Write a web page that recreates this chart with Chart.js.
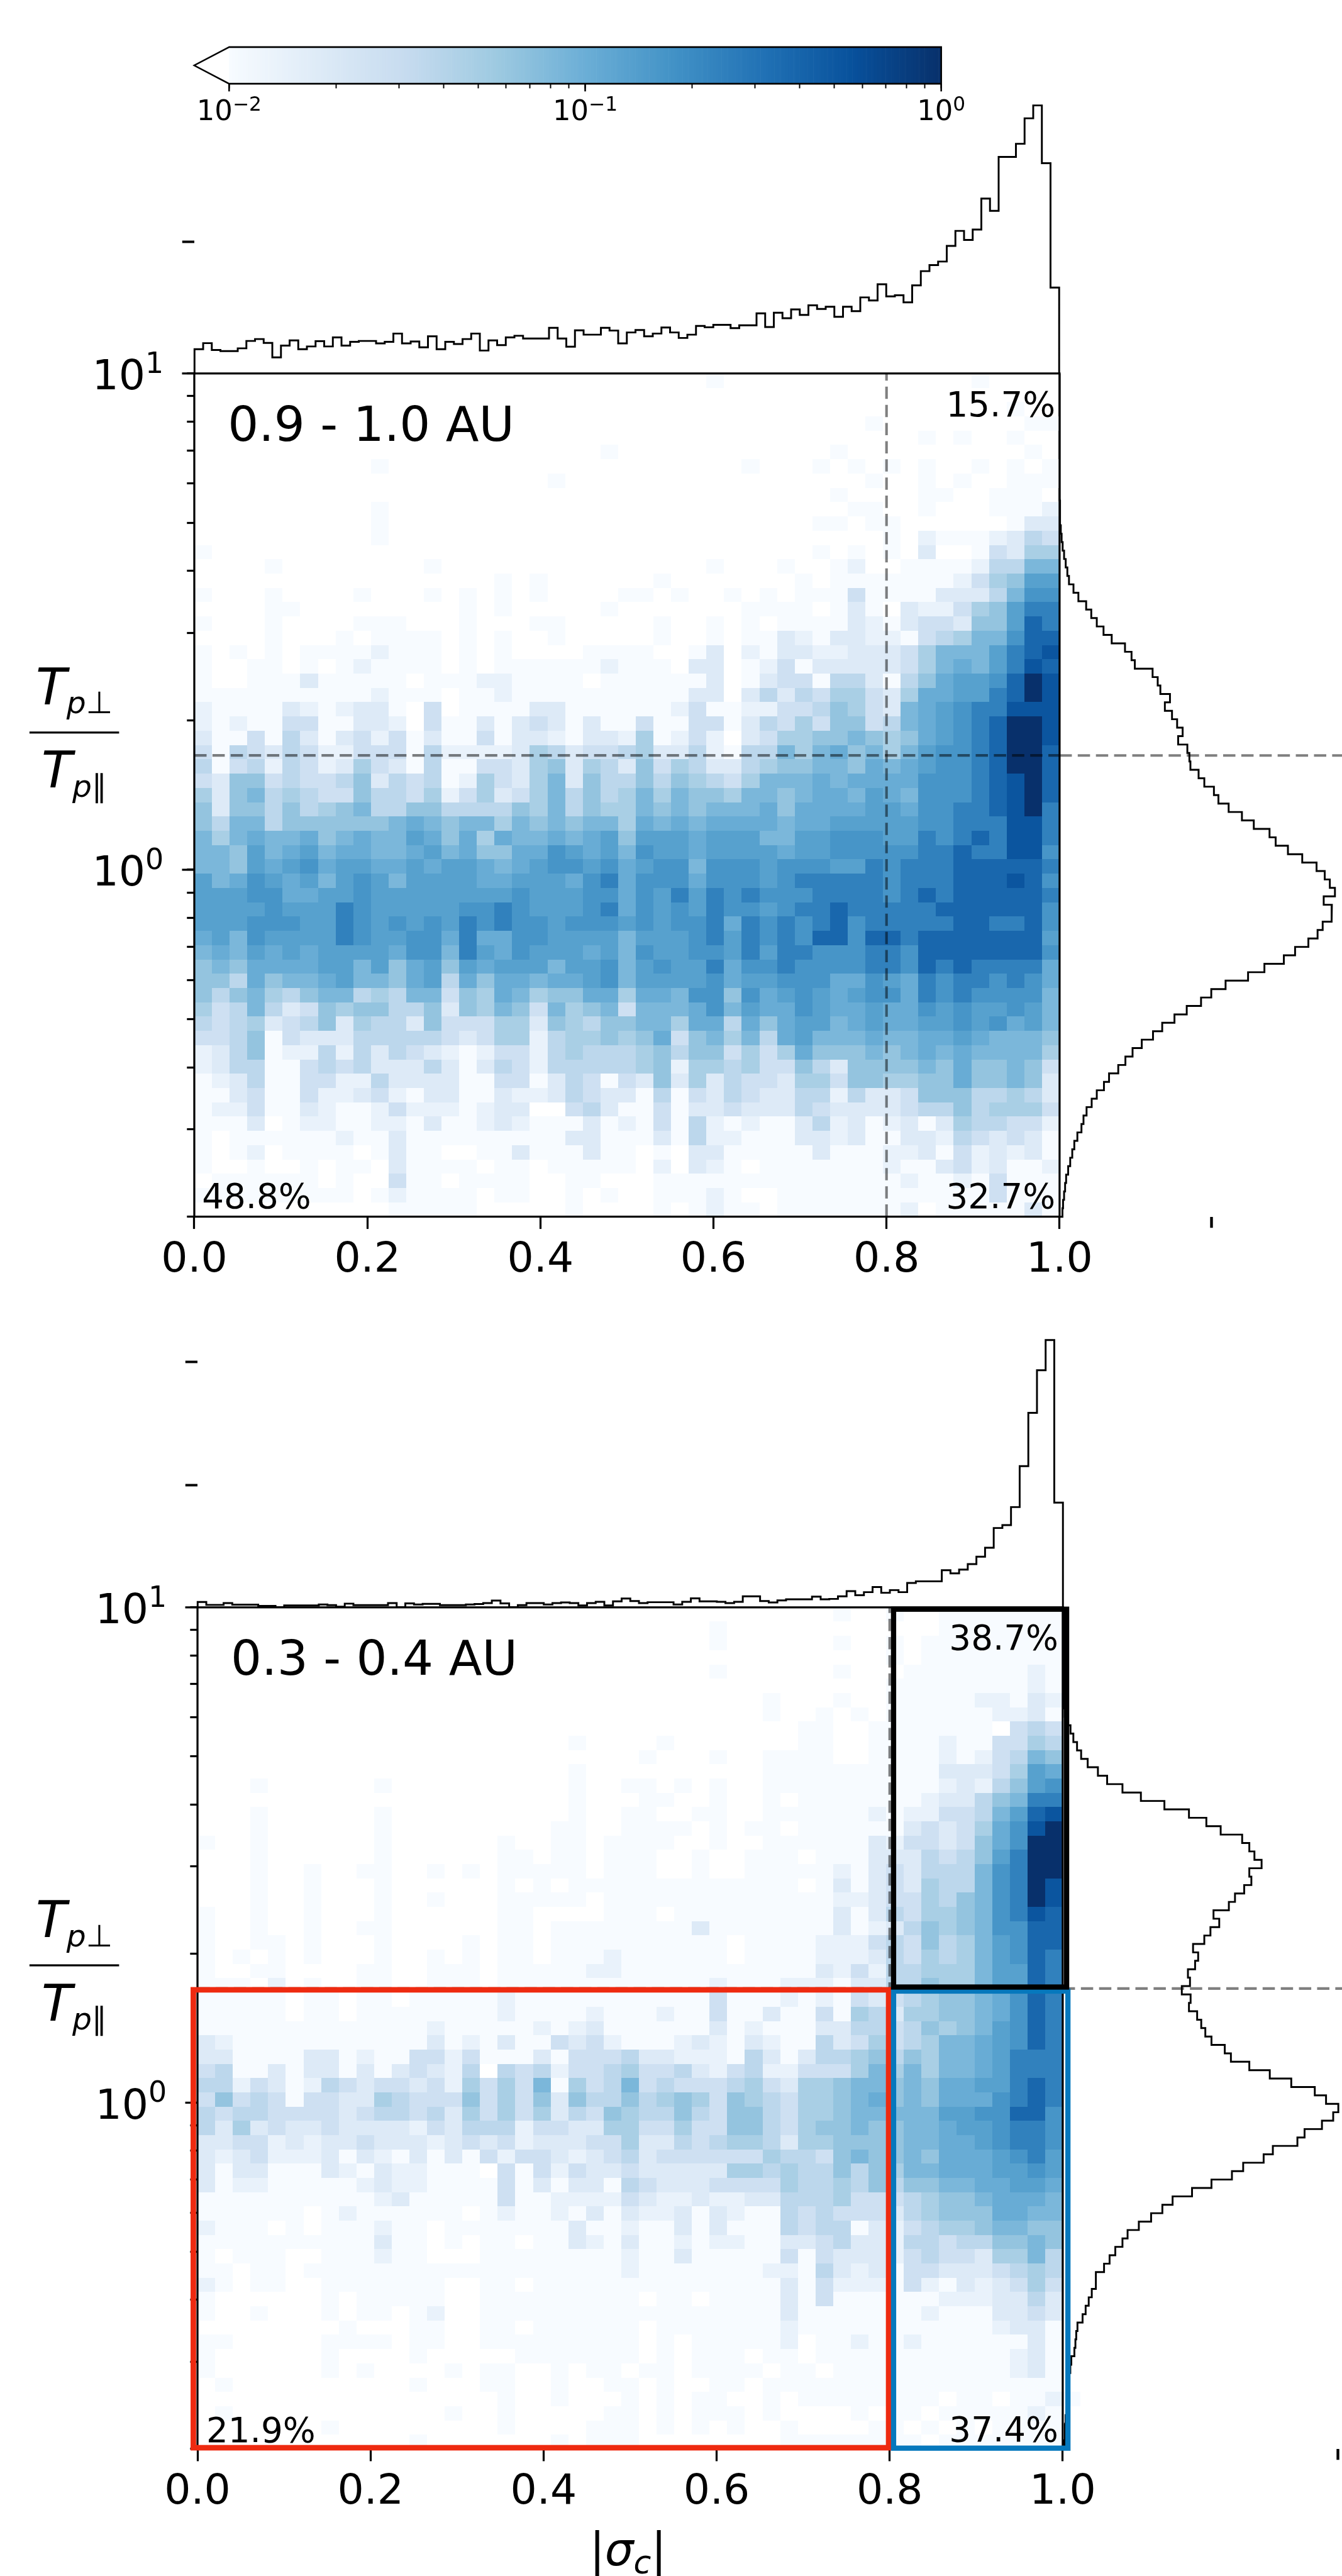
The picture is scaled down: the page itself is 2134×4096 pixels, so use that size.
<!DOCTYPE html>
<html>
<head>
<meta charset="utf-8">
<script src="https://cdn.jsdelivr.net/npm/chart.js@4"></script>
<style>
html, body { margin: 0; padding: 0; background: #fff; }
body { position: relative; width: 2134px; height: 4096px; overflow: hidden; }
canvas { position: absolute; }
</style>
</head>
<body>
<script>
// values
const xTickValues = [0, 0.2, 0.4, 0.6, 0.8, 1];
const yTickValues = [0.2, 0.3, 0.4, 0.5, 0.6, 0.7, 0.8, 0.9, 1, 2, 3, 4, 5, 6, 7, 8, 9, 10];
const yTickPowers = { 1: '0', 10: '1' };
const cbarTickValues = [0.01, 0.02, 0.03, 0.04, 0.05, 0.06, 0.07, 0.08, 0.09, 0.1, 0.2, 0.3, 0.4, 0.5, 0.6, 0.7, 0.8, 0.9, 1];
const cbarTickPowers = { 0.01: '−2', 0.1: '−1', 1: '0' };
const anisotropyLine = 1.7;
const alfvenicLine = 0.8;

// density meant by each hex digit in the cell tables below, digit 0 = empty bin
const levelValues = [0, 0.01, 0.0138, 0.0182, 0.0263, 0.0363, 0.0479, 0.0631, 0.0832, 0.1047, 0.1318, 0.166, 0.24, 0.38, 0.5248, 1];

// one string per row of bins, top row first, one hex digit per bin
const cells09 = [
'0000000000000000000000000 000010000000000000010000',
'0000000000000000000000000 000000000000000000000000',
'0000000000000000000000000 000000000000000000000100',
'0000000000000000000000000 000000000000010000000011',
'0000000000000000000000000 000000000000000010100100',
'0000000000000000000000010 000000000001000000000010',
'0000000000100000000000000 000000100010101010010101',
'0000000000000000000010000 000000000000010010100111',
'0000000000000000000000000 000000000001000011001110',
'0000000000100000000000000 000000000000110010001112',
'0000000000100000000000000 000000000011011000000133',
'0000000000100000000000000 000000000000001021112354',
'1000000000000000000000000 000000000010101030014366',
'0000100000000100000000000 000010001001200111125588',
'0000000000000000010100000 010000000101111111 2467aa',
'1000100001000101010100001 101001010111 4 1111 333 58bb',
'0000110000000001010000010 000000 1111 0 1 3 1 0 322467acc',
'1000100001110001000110000 0 1 00 1 0 1 0 1111 321344377adc',
'0000 1 000 1 0 1111 0 1 0 1 00 1 0000 0 1 00 1 0 1 1 3213322145688bdd',
'1010101111 2 111 0 1 0 1 0000 111 1 00 1 3 0 2 1 33223334 688 8acde',
'1001101012 1111 0 1 0 11111 121 11 0 3 3 0 1 2 4 1 33333 4 689 8 a c e d',
'1001113 11111 0 111 2 2 1111 0 11 1111 3 0 1 3 4 4 1 5 5 3 1 5 7 9 a a b d f e',
'1111111111 2 111 0 11 2 1111111 111 3 3 0 3 5 3 5 4 6 6 4 3 6 9 9 a a c d f e',
'2 1111 3 2 1 2 3 3 1 0 4 0 1111 3 3 1111 1 1 2 4 1 1 2 2 4 4 5 7 6 4 3 8 9 a b c c e e e',
'2121144113320411 3 1 3 4 3 1 3 1 1 4 1 1 4 4 1 3 5 4 6 4 7 7 4 5 8 9 a b c d f f e',
'3114153134241311 4 1 3 3 2 1 3 3 2 6 1 2 4 2 0 3 4 6 6 7 7 8 7 6 7 9 a b c d f f e',
'4154354224441522 2 2 3 6 5 3 4 4 5 6 3 3 5 2 1 5 5 8 6 8 9 7 8 6 8 a b b c d f f d',
'5145254236431511 4 4 3 6 7 3 6 5 3 7 4 6 5 3 3 5 6 7 7 8 8 7 9 8 9 a b b c d f f d',
'4377454457354512 6 4 3 6 8 3 7 5 5 7 5 7 6 5 4 6 8 8 8 9 8 9 9 9 9 b b b c d e f d',
'6378565447554624 6 3 4 6 8 5 7 5 6 8 6 8 7 7 6 8 8 7 8 9 9 8 a 9 8 b b b c d e f d',
'7377575678557755 5 5 7 6 8 5 7 6 6 8 7 8 7 8 8 8 9 7 9 9 9 9 a a 9 b b c c d e f c',
'7588577777789878 8 6 8 7 8 7 8 8 6 9 8 9 8 9 9 9 9 8 9 9 a a a a a b b c c c e e c',
'868988978988a979 6 9 8 8 9 8 9 a 7 a a a 9 a a a 8 8 a a b b b a a c b c d c e e c',
'887a89a899889a89 7 7 9 9 b a 9 a 8 b a a 9 a a a a 9 a a b b b b b c c d c c e e b',
'887a9ab9aa99a9aa 9 8 9 a b b a b 9 a b b 8 b b b a b b b a a c b c c c d d d d d c',
'a89ba9a8aba8aaaa 9 9 a a a 9 b c 9 b b b 9 b b b a b c c c c c b c c c d d d e d b',
'aaabb99aabaaaaaa a a b a a a b b 9 b a c a c b c b b b c c c c b c d c d d d d d c',
'aaaabaaacbaaaaab b c b a a a b c 9 b a b a c b b a b c c d c c c c c d d d d d d b',
'aaabbbaacbababac b c b b a b b b a b a b b c 9 c b c b c d b c c c c c d d c c d b',
'9a8baaaacbaabb9c 9 9 b b a a a a 8 a a a b c a c b c b d d b d d c d d d d d d d a',
'898a9a9aaaa9bb8c a 9 b a a a 9 a 8 b a a b b a c a c c b b b c c b d d d d d d d b',
'7879999aa8a79a7a 9 a a a 8 a a b 8 a b a a c 9 b b c b b b b c c b d c d c c c c 9',
'77597889a8879a59 7 9 9 8 9 9 a b 8 a a a a b 9 a a b b b 9 9 b a 9 c b c c b c b 9',
'75786578856588 47 6 9 8 6 7 7 9 9 6 9 9 8 b b 7 b 9 a b a 9 a b b 9 c b c b b b b 8',
'6458534767755737 6 8 7 4 8 6 7 8 4 8 8 8 9 b 8 a 9 9 b a 9 9 a 9 9 b a b a a b a 8',
'5456345736553744 4 6 6 3 7 6 5 7 7 8 8 6 9 9 5 9 7 9 a a 8 9 a 9 9 a a b a b 9 a 8',
'4457143335555543 4 6 6 2 5 6 6 7 6 7 9 4 7 8 6 8 5 9 a 8 8 8 9 8 8 9 9 a 9 8 8 8 7',
'2357122525354321 2 4 4 2 5 6 5 5 5 6 7 5 7 7 4 6 4 6 9 7 7 7 8 7 8 9 8 9 8 8 8 8 6',
'2355114545333531 3 5 4 2 5 5 5 5 5 6 7 2 6 6 5 6 4 4 7 5 3 7 7 7 7 8 7 9 7 7 8 7 4',
'1235114422533331 1 4 4 1 3 5 4 1 4 3 7 3 6 3 5 4 4 3 6 6 4 7 7 6 6 7 7 9 7 7 8 7 3',
'1134114223421331 1 3 2 2 3 5 4 3 3 1 5 1 4 3 5 4 3 3 5 5 2 5 3 3 4 7 7 7 5 5 6 5 3',
'1224113211242221 2 3 3 0 0 4 5 3 1 1 4 1 3 3 4 3 3 3 5 4 3 3 3 3 4 5 5 7 5 6 6 6 4',
'1113012211221311 2 3 2 1 1 1 3 1 2 1 4 1 5 2 1 2 1 1 3 5 2 3 1 2 3 1 3 6 5 5 4 4 2',
'1011111121131111 1 1 1 1 1 3 3 1 1 1 3 1 5 2 2 1 1 1 3 3 2 3 1 1 3 3 2 5 4 3 4 3 1',
'1012011110131100 1 1 3 1 1 1 3 1 1 0 1 0 3 3 1 1 1 1 1 3 1 1 1 2 2 3 1 4 2 3 2 3 1',
'1001001011031111 0 1 1 0 1 1 1 1 1 0 2 0 3 2 1 0 1 1 1 1 1 1 1 2 1 1 3 4 2 3 1 1 2',
'0111111010041101 1 1 1 0 0 1 1 0 0 0 1 1 1 1 1 1 1 1 1 1 1 1 1 1 2 1 1 2 1 4 1 1 1',
'1111111110121111 0 1 1 0 0 1 0 1 0 0 1 1 1 2 1 0 0 1 1 1 1 1 1 1 1 1 1 1 1 4 1 1 1',
'0000000000011111 0 0 0 0 0 1 0 0 0 0 1 0 1 2 1 1 0 1 1 1 1 1 1 1 2 0 1 1 1 1 1 3 1'
];
const cells03 = [
'000000000000000000000000000000000000 1 00 1 00 1111111',
'00000000000000000000000000000 1 000000000000 1111111',
'00000000000000000000000000000 1 000000 1 00 1 0 11111111',
'000000000000000000000000000000000000000 1 0 11111111',
'00000000000000000000000000000 1 000000 1 000 1111111 2 1',
'000000000000000000000000000000000000000 11111111 2 1',
'00000000000000000000000000000000 1 000 1 00 11111 22132',
'00000000000000000000000000000000 1 00 1 0 1 0 111111 2231',
'0000000000000000000000000000000000 11 00 1 111111 0454',
'000000000000000000000 1 0000 1 0000000 11 00 1 111 2 11 4465',
'0000000000000000000000000 1 000 1 00 1111 00 1 111 2 1 2 4587',
'000000000000000000000 1 0000000000 1111111111 333 4 6 a 9',
'000100000010000000000 1 00 11 0 1 0 1 00 1111111111 2325 7 a b',
'000000000000000000000 1 000 11 00 1 00 1 0 1111111 2 3 3 5 7 8 c c',
'000 1 000000 1 0000000000 1 00 11 00 11 00 11 1111 2 1 2 2 4 4 5 8 a d e',
'000 1 000000 1 000000000 11 00 1111 0 1 0 11 0 111111 3 4 3 4 6 9 b e f',
'1 00 1 000000 1 000000 1 00 11 0 1111 00 1 00 11 1111 3 2 4 4 3 4 7 9 b f f',
'000 1 000000 1 000000 11 0 11 0 111 00 1 00 111 0 111 3 3 3 5 4 5 7 a c f f',
'000 1 00 1 00 11 00 1 0 1 0 11111 0 111 00 1 00 111 11 2 1 3 4 3 5 5 5 8 b c f f',
'000 1 00 1 000 1 000000 1 0 1 0 1111111111111 0 1 3 1 3 4 3 6 5 5 8 b c f e',
'000 1 00 1 000 1 00 1 000 11111 0 1111111111111 2 2 3 4 4 6 5 7 8 b c f e',
'1 00 1 00 1 000 1 000000 11 0000 111 0 111111111 3 1 3 5 4 6 6 7 8 b c e d',
'1 00 1 00 1 00 11 000000 11 0 11111111 3 1111111 3 1 2 3 5 7 6 7 8 b b d d',
'1 00 11 0 1 000 1 0000 1 0 11 0 1111111111 0 1111 2 2 2 4 5 4 7 5 6 8 a b d d',
'1 0 1 0 1 0 1 000 1 00 1 0 1 0 1 1 0 1 1 1 2 111111 0 1111 2 2 2 3 5 4 6 5 6 8 a b d c',
'1 00 11 0000 11 00 111 0 11111 22 11111111111 3 2 4 2 5 5 6 6 6 8 a a d c',
'111 0 2 0 1 00 11 00 111 0 111111111111 2 111 2 2 2 1 3 3 5 5 7 6 6 8 a a d c',
'11111 0 11 0 11 0 11111 2 11111111111 4 111 2 1 2 1 4 3 4 5 6 7 7 8 9 b d c',
'11111 0 11 0 11111111 2 1111 2 111 2 11 4 11 3 1 1 4 1 6 5 3 6 6 7 7 8 9 b d c',
'1111111111111 2 11111 2 1 2 3 111111 3 1 2 1 1 1 3 3 5 5 4 5 7 6 7 8 a b d c',
'32 11111111111 31213114342 111 232 13211 5346456889abdc',
'33 1111 33 1 2 1 1 4 4 2 4 1 1 1 3 1 4 4 4 5 3 3 2 2 2 1 5 3 1 3 5 5 6 7 5 7 6 8 8 9 a c c c',
'45113133131343250545244564453245 22444 6 8 6 8 6 8 8 9 a c c c',
'55243125434434264648164584544456 43667 8 8 7 8 7 9 9 a a c d c',
'47454144336544474647375575676476 54667 8 9 7 8 7 9 9 9 b c d c',
'54554444345545364646354765575477 54667 8 8 8 8 8 a a b b d d b',
'53634334333324355524433664464477 54677 8 7 7 8 8 9 a a b c c b',
'33442323343332343423334463354566 53667 7 7 7 8 8 9 9 a b c c b',
'32342223132131314244323453444444 65547 8 7 7 8 7 9 9 9 a b c a',
'31331113213221110414243343333366 56557 5 7 6 8 8 9 9 9 a a b a',
'31221111123221111413133154333444 46556 5 7 5 7 7 8 8 9 9 a a 9',
'11111111112311111411222243223223 35556 4 4 4 5 6 7 7 8 9 9 9 8',
'11111101211111101211213132231321 15454 4 4 3 5 6 7 7 7 9 9 8 8',
'21110101112110111111131121131311 15455 1 3 2 4 5 6 6 7 8 8 7 7',
'11111111113110101101132131121221 13345 3 3 2 5 5 4 5 5 7 7 8 7',
'10111001112110001111111121131111 14143 3 3 2 4 5 4 4 3 6 6 8 5',
'11011011111111111111111121111111 22153 2 3 1 4 4 3 3 3 4 5 6 5',
'21011001111111001101111111111111 13142 2 2 1 4 2 1 3 2 3 4 6 4',
'10000001011111001111111110110111 13141 1 1 1 1 1 2 2 2 3 3 5 3',
'10010001011012001111111111111111 13111 1 1 1 1 2 1 1 1 3 3 4 3',
'00000000100011001101111110111111 12111 1 1 1 1 1 1 1 1 2 3 3 1',
'11000001111011001111111110101111 12011 2 1 1 2 1 1 1 1 1 1 3 1',
'10000001000010000011111110101110 11011 1 1 1 1 1 1 1 1 1 2 3 1',
'10000001010000101100101101101111 01101 1 1 1 1 1 1 1 1 1 2 3 1',
'01000000000010001100100110100110 11111 1 1 1 1 1 1 1 1 1 1 1 1',
'00000000000000000100100010101100 10111 1 1 1 1 1 0 1 1 0 1 1 2 1',
'01000000000000100100000110101110 10000 1 0 1 1 0 1 1 1 1 1 2 1',
'00000001000000000100001110101010 01000 0 1 1 0 1 0 1 0 1 1 1 1',
'00000000000010000000101110000000 01111 1 1 1 1 0 1 1 1 1 1 1 1'
];

const topHist09 = [87,109,84,80,80,90,117,124,110,57,100,119,87,97,116,97,130,100,114,117,117,108,114,144,108,115,94,134,87,114,106,124,144,82,119,102,130,136,126,126,126,165,126,96,156,140,140,165,155,108,148,157,134,144,166,148,128,140,172,167,176,176,164,174,174,218,168,220,200,232,212,247,234,242,205,242,226,276,265,324,280,284,258,320,372,394,407,464,519,486,524,637,592,789,789,837,930,977,766,312];
const sideHist09 = [0,0,0,0,0,0,0,0,0,0,0,0,0,0,0,1,2,3,6,10,15,22,30,38,46,68,92,130,155,182,215,255,320,352,368,455,480,493,540,515,550,575,602,580,625,635,640,680,708,755,777,827,892,950,1027,1057,1117,1187,1257,1297,1322,1347,1292,1332,1330,1287,1262,1217,1152,1097,1002,922,812,742,692,622,562,502,457,402,357,322,287,242,217,182,157,132,117,107,87,72,62,52,42,32,27,22,17,14];
const topHist03 = [27,13,13,22,14,14,14,8,8,2,10,10,10,10,15,12,4,19,12,12,12,12,22,2,20,15,18,18,12,12,12,15,17,22,34,20,2,12,22,22,15,22,25,22,10,22,28,10,30,44,32,22,26,26,26,15,28,45,30,30,28,22,28,55,55,32,25,35,40,40,40,53,40,42,55,80,60,75,100,72,85,75,120,128,128,128,182,167,185,212,248,292,388,402,490,690,950,1158,1305,512];
const sideHist03 = [2,2,2,2,2,2,2,2,2,2,3,5,10,25,38,52,70,90,122,172,217,292,382,497,617,702,772,877,912,937,972,912,922,887,842,812,737,765,722,692,637,662,647,612,622,582,625,617,657,677,697,727,792,822,912,1012,1117,1232,1287,1347,1322,1267,1182,1147,1027,982,882,827,727,632,537,487,432,372,317,292,257,229,202,162,162,142,127,112,97,72,66,62,57,42,37,32,28,24,20,17,14,12,10,8];

// boxes of the lower panel, in data coordinates
const redBox = { x0: -0.0048, x1: 0.7988, y0: 0.2011, y1: 1.69 };
const blueBox = { x0: 0.8045, x1: 1.006, y0: 0.2007, y1: 1.68 };
const blackBox = { x0: 0.8045, x1: 1.0045, y0: 1.712, y1: 9.915 };

// layout, all in reference pixels
const S = 2134 / 2186;
const FONT = '"DejaVu Sans"';
Chart.defaults.animation = false;
Chart.defaults.responsive = false;
Chart.defaults.events = [];
Chart.defaults.font.family = FONT;
Chart.defaults.color = '#000';
Chart.defaults.plugins.legend.display = false;
Chart.defaults.plugins.tooltip.enabled = false;

const blues = [[247,251,255],[222,235,247],[198,219,239],[158,202,225],[107,174,214],[66,146,198],[33,113,181],[8,81,156],[8,48,107]];
function bluesAt(t) {
    const p = Math.min(Math.max(t, 0), 1) * 8;
    const i = Math.min(Math.floor(p), 7);
    const f = p - i;
    const c = [0, 1, 2].map(k => Math.round(blues[i][k] + (blues[i + 1][k] - blues[i][k]) * f));
    return `rgb(${c[0]},${c[1]},${c[2]})`;
}
// same log norm as the colour bar, 10^-2 to 10^0
const colorOf = v => bluesAt((Math.log10(v) + 2) / 2);

function addChart(plot, m, config) {
    const c = document.createElement('canvas');
    const left = Math.round((plot.l - m.l) * S);
    const top = Math.round((plot.t - m.t) * S);
    c.width = Math.round((plot.r + m.r) * S) - left;
    c.height = Math.round((plot.b + m.b) * S) - top;
    c.style.left = left + 'px';
    c.style.top = top + 'px';
    document.body.appendChild(c);
    return new Chart(c, config);
}

// keeps the plot box where it was measured, whatever the tick labels need
function fixW(w) { return a => { a.width = w * S; a.paddingTop = 0; a.paddingBottom = 0; }; }
function fixH(h) { return a => { a.height = h * S; a.paddingLeft = 0; a.paddingRight = 0; }; }

const heatPlugin = rows => ({
    id: 'heat',
    beforeDatasetsDraw(chart) {
        const { x, y } = chart.scales;
        const ctx = chart.ctx;
        rows.forEach((row, r) => {
            const top = Math.round(y.getPixelForValue(10 * Math.pow(50, -r / 59)));
            const bot = Math.round(y.getPixelForValue(10 * Math.pow(50, -(r + 1) / 59)));
            row.replace(/ /g, '').split('').forEach((ch, col) => {
                const v = levelValues[parseInt(ch, 16)];
                if (!v) return;
                const l = Math.round(x.getPixelForValue(col / 49));
                const rr = Math.round(x.getPixelForValue((col + 1) / 49));
                ctx.fillStyle = colorOf(v);
                ctx.fillRect(l, top, rr - l, bot - top);
            });
        });
    }
});

// matplotlib draws major ticks longer than minor ones
const longTicks = (axisId, extra, width) => ({
    id: 'longTicks',
    afterDraw(chart) {
        const sc = chart.scales[axisId];
        const ctx = chart.ctx;
        ctx.save();
        ctx.strokeStyle = '#000';
        ctx.lineWidth = width * S;
        sc.ticks.filter(t => t.major).forEach(t => {
            const p = sc.getPixelForValue(t.value);
            ctx.beginPath();
            if (sc.isHorizontal()) {
                ctx.moveTo(p, chart.chartArea.bottom);
                ctx.lineTo(p, chart.chartArea.bottom + extra * S);
            } else {
                ctx.moveTo(chart.chartArea.left, p);
                ctx.lineTo(chart.chartArea.left - extra * S, p);
            }
            ctx.stroke();
        });
        ctx.restore();
    }
});

// 10 with a raised power, placed from the scale; canvas ticks cannot do superscripts
const powerLabels = (axisId, powers, size, supSize, gap, rise) => ({
    id: 'powerLabels',
    afterDraw(chart) {
        const sc = chart.scales[axisId];
        const a = chart.chartArea;
        const ctx = chart.ctx;
        ctx.save();
        ctx.fillStyle = '#000';
        ctx.textBaseline = 'alphabetic';
        ctx.textAlign = 'left';
        sc.ticks.forEach(t => {
            const pw = powers[t.value];
            if (pw === undefined) return;
            const p = sc.getPixelForValue(t.value);
            ctx.font = `${size * S}px ${FONT}`;
            const w0 = ctx.measureText('10').width;
            ctx.font = `${supSize * S}px ${FONT}`;
            const w1 = ctx.measureText(pw).width;
            const horizontal = sc.isHorizontal();
            const x = horizontal ? p - (w0 + w1) / 2 : a.left - gap * S - w0 - w1;
            const y = horizontal ? a.bottom + gap * S : p + 0.38 * size * S;
            ctx.font = `${size * S}px ${FONT}`;
            ctx.fillText('10', x, y);
            ctx.font = `${supSize * S}px ${FONT}`;
            ctx.fillText(pw, x + w0, y - rise * S);
        });
        ctx.restore();
    }
});

const spines = {
    id: 'spines',
    afterDatasetsDraw(chart) {
        const a = chart.chartArea;
        const ctx = chart.ctx;
        ctx.save();
        ctx.strokeStyle = '#000';
        ctx.lineWidth = 3.3 * S;
        ctx.strokeRect(a.left, a.top, a.right - a.left, a.bottom - a.top);
        ctx.restore();
    }
};

const boxes = list => ({
    id: 'boxes',
    afterDraw(chart) {
        const { x, y } = chart.scales;
        const ctx = chart.ctx;
        ctx.save();
        list.forEach(([b, color, w]) => {
            ctx.strokeStyle = color;
            ctx.lineWidth = w * S;
            ctx.lineJoin = 'miter';
            const l = x.getPixelForValue(b.x0), r = x.getPixelForValue(b.x1);
            const t = y.getPixelForValue(b.y1), d = y.getPixelForValue(b.y0);
            ctx.strokeRect(l, t, r - l, d - t);
        });
        ctx.restore();
    }
});

// free text, given in reference pixels of the whole figure
const writeText = (plot, m, items) => ({
    id: 'writeText',
    afterDraw(chart) {
        const ctx = chart.ctx;
        const ox = Math.round((plot.l - m.l) * S), oy = Math.round((plot.t - m.t) * S);
        ctx.save();
        ctx.fillStyle = '#000';
        ctx.textBaseline = 'alphabetic';
        items.forEach(it => {
            if (it.parts) {
                let total = 0;
                it.parts.forEach(p => {
                    ctx.font = `${p.style || ''} ${p.size * S}px ${FONT}`;
                    total += ctx.measureText(p.t).width;
                });
                let x = it.x * S - ox - total / 2;
                it.parts.forEach(p => {
                    ctx.font = `${p.style || ''} ${p.size * S}px ${FONT}`;
                    ctx.textAlign = 'left';
                    ctx.fillText(p.t, x, (it.y + (p.dy || 0)) * S - oy);
                    x += ctx.measureText(p.t).width;
                });
            } else if (it.rule) {
                ctx.fillRect(it.rule[0] * S - ox, it.y * S - oy, (it.rule[1] - it.rule[0]) * S, 3.3 * S);
            } else {
                ctx.font = `${it.size * S}px ${FONT}`;
                ctx.textAlign = it.align || 'left';
                ctx.fillText(it.t, it.x * S - ox, it.y * S - oy);
            }
        });
        ctx.restore();
    }
});

function ratioLabel(y) {
    const sub = 15;
    return [
        { x: 121, y: y - 46, parts: [{ t: 'T', style: 'italic', size: 82 }, { t: 'p', style: 'italic', size: 50, dy: sub }, { t: '⊥', size: 50, dy: sub }] },
        { rule: [48, 194], y: y - 1.5 },
        { x: 121, y: y + 90, parts: [{ t: 'T', style: 'italic', size: 82 }, { t: 'p', style: 'italic', size: 50, dy: sub }, { t: '∥', size: 50, dy: sub }] }
    ];
}

const dash = { borderColor: 'rgba(0,0,0,0.5)', borderWidth: 4.2 * S, borderDash: [20 * S, 9.6 * S], pointRadius: 0, showLine: true, clip: false, tension: 0 };

function topSteps(v) {
    const pts = [{ x: 0, y: 0 }];
    v.forEach((h, i) => pts.push({ x: i / 100, y: h }, { x: (i + 1) / 100, y: h }));
    pts.push({ x: 1, y: 0 });
    return pts;
}
function sideSteps(v) {
    const pts = [{ x: 0, y: 10 }];
    v.forEach((h, j) => pts.push({ x: h, y: 10 * Math.pow(50, -j / 100) }, { x: h, y: 10 * Math.pow(50, -(j + 1) / 100) }));
    pts.push({ x: 0, y: 0.2 });
    return pts;
}
const histLine = pts => ({ data: pts, borderColor: '#000', borderWidth: 3 * S, pointRadius: 0, showLine: true, tension: 0, clip: false, borderJoinStyle: 'miter' });

function topHistChart(plot, vals, yMax, tickVals) {
    const m = { l: 30, t: 4, r: 10, b: 4 };
    addChart({ l: plot.l, r: plot.r, t: plot.t - 440, b: plot.t }, m, {
        type: 'scatter',
        data: { datasets: [histLine(topSteps(vals))] },
        options: {
            layout: { padding: { left: 0, top: m.t * S, right: m.r * S, bottom: m.b * S } },
            scales: {
                x: { type: 'linear', min: 0, max: 1, display: false },
                y: {
                    type: 'linear', min: 0, max: yMax, afterFit: fixW(m.l),
                    afterBuildTicks: a => { a.ticks = tickVals.map(v => ({ value: v })); },
                    border: { display: false },
                    grid: { drawOnChartArea: false, tickLength: 20 * S, tickWidth: 4 * S, tickColor: '#000' },
                    ticks: { callback: () => '', padding: 0 }
                }
            }
        }
    });
}

function sideHistChart(plot, vals, xMax, tickVal) {
    const m = { l: 4, t: 4, r: 0, b: 30 };
    addChart({ l: plot.r, r: 2186, t: plot.t, b: plot.b }, m, {
        type: 'scatter',
        data: { datasets: [
            histLine(sideSteps(vals)),
            Object.assign({ data: [{ x: 0, y: anisotropyLine }, { x: xMax, y: anisotropyLine }] }, dash)
        ] },
        options: {
            layout: { padding: { left: m.l * S, top: m.t * S, right: 0, bottom: 0 } },
            scales: {
                y: { type: 'logarithmic', min: 0.2, max: 10, display: false },
                x: {
                    type: 'linear', min: 0, max: xMax, afterFit: fixH(m.b),
                    afterBuildTicks: a => { a.ticks = [{ value: tickVal }]; },
                    border: { display: false },
                    grid: { drawOnChartArea: false, tickLength: 18 * S, tickWidth: 4.5 * S, tickColor: '#000' },
                    ticks: { callback: () => '', padding: 0, maxRotation: 0 }
                }
            }
        }
    });
}

function mainChart(plot, rows, marginB, extraPlugins) {
    const m = { l: plot.l, t: 50, r: 80, b: marginB };
    addChart(plot, m, {
        type: 'scatter',
        data: { datasets: [
            Object.assign({ data: [{ x: 0, y: anisotropyLine }, { x: 1, y: anisotropyLine }] }, dash),
            Object.assign({ data: [{ x: alfvenicLine, y: 0.2 }, { x: alfvenicLine, y: 10 }] }, dash)
        ] },
        options: {
            layout: { padding: { left: 0, top: m.t * S, right: m.r * S, bottom: 0 } },
            scales: {
                x: {
                    type: 'linear', min: 0, max: 1, afterFit: fixH(marginB),
                    afterBuildTicks: a => { a.ticks = xTickValues.map(v => ({ value: v })); },
                    border: { display: false },
                    grid: { drawOnChartArea: false, tickLength: 20 * S, tickWidth: 3.3 * S, tickColor: '#000' },
                    ticks: { font: { size: 68 * S }, padding: 11 * S, maxRotation: 0, autoSkip: false, callback: v => v.toFixed(1) }
                },
                y: {
                    type: 'logarithmic', min: 0.2, max: 10, afterFit: fixW(plot.l),
                    afterBuildTicks: a => { a.ticks = yTickValues.map(v => ({ value: v, major: v === 1 || v === 10 })); },
                    border: { display: false },
                    grid: { drawOnChartArea: false, tickLength: 12 * S, tickWidth: 3.3 * S, tickColor: '#000' },
                    ticks: { display: false }
                }
            }
        },
        plugins: [heatPlugin(rows), spines, longTicks('y', 20, 3.3), powerLabels('y', yTickPowers, 68, 47, 50, 27)].concat(extraPlugins(m))
    });
}

// colour bar
(function () {
    const plot = { l: 373, r: 1533, t: 77, b: 136 };
    const m = { l: 70, t: 6, r: 70, b: 90 };
    const cmin = 0.01, cmax = 1;
    addChart(plot, m, {
        type: 'scatter',
        data: { datasets: [{ data: [{ x: cmin, y: 0 }, { x: cmax, y: 1 }], pointRadius: 0 }] },
        options: {
            layout: { padding: { left: m.l * S, top: m.t * S, right: m.r * S, bottom: 0 } },
            scales: {
                y: { type: 'linear', min: 0, max: 1, display: false },
                x: {
                    type: 'logarithmic', min: cmin, max: cmax, afterFit: fixH(m.b),
                    afterBuildTicks: a => { a.ticks = cbarTickValues.map(v => ({ value: v, major: cbarTickPowers[v] !== undefined })); },
                    border: { display: false },
                    grid: { drawOnChartArea: false, tickLength: 7.5 * S, tickWidth: 2 * S, tickColor: '#000' },
                    ticks: { display: false }
                }
            }
        },
        plugins: [{
            id: 'cbar',
            beforeDatasetsDraw(chart) {
                const x = chart.scales.x, a = chart.chartArea, ctx = chart.ctx;
                for (let i = 0; i < 256; i++) {
                    const v0 = cmin * Math.pow(cmax / cmin, i / 256), v1 = cmin * Math.pow(cmax / cmin, (i + 1) / 256);
                    const l = x.getPixelForValue(v0), r = x.getPixelForValue(v1);
                    ctx.fillStyle = colorOf(Math.sqrt(v0 * v1));
                    ctx.fillRect(l, a.top, r - l + 0.6, a.bottom - a.top);
                }
                const tip = x.getPixelForValue(0.00798);
                ctx.save();
                ctx.strokeStyle = '#000';
                ctx.lineWidth = 2.6 * S;
                ctx.lineJoin = 'miter';
                ctx.beginPath();
                ctx.moveTo(a.left, a.top);
                ctx.lineTo(tip, (a.top + a.bottom) / 2);
                ctx.lineTo(a.left, a.bottom);
                ctx.lineTo(a.right, a.bottom);
                ctx.lineTo(a.right, a.top);
                ctx.closePath();
                ctx.stroke();
                ctx.restore();
            }
        }, longTicks('x', 12.5, 2.6), powerLabels('x', cbarTickPowers, 46, 32, 59, 15)]
    });
})();

const plot09 = { l: 316.5, r: 1725.5, t: 608, b: 1982 };
const plot03 = { l: 321.7, r: 1731, t: 2618, b: 3989 };

topHistChart(plot09, topHist09, 985.6, [480]);
sideHistChart(plot09, sideHist09, (2186 - plot09.r) * 3, 744);
mainChart(plot09, cells09, 150, m => [writeText(plot09, m, [
    { t: '0.9 - 1.0 AU', x: 371, y: 718, size: 79 },
    { t: '15.7%', x: 1719, y: 678, size: 56, align: 'right' },
    { t: '48.8%', x: 329, y: 1968, size: 56 },
    { t: '32.7%', x: 1719, y: 1968, size: 56, align: 'right' }
].concat(ratioLabel(1193)))]);

topHistChart(plot03, topHist03, 1320, [597, 1198]);
sideHistChart(plot03, sideHist03, (2186 - plot03.r) * 3, 1344);
mainChart(plot03, cells03, 207, m => [
    boxes([[redBox, '#ee2a10', 9], [blueBox, '#0678bd', 8.5], [blackBox, '#000', 8.5]]),
    writeText(plot03, m, [
        { t: '0.3 - 0.4 AU', x: 376, y: 2728, size: 79 },
        { t: '38.7%', x: 1724, y: 2687, size: 56, align: 'right' },
        { t: '21.9%', x: 336, y: 3978, size: 56 },
        { t: '37.4%', x: 1724, y: 3977, size: 56, align: 'right' },
        { x: 1023, y: 4178, parts: [{ t: '|', size: 74 }, { t: 'σ', style: 'italic', size: 74 }, { t: 'c', style: 'italic', size: 52, dy: 14 }, { t: '|', size: 74 }] }
    ].concat(ratioLabel(3201)))
]);
</script>
</body>
</html>
